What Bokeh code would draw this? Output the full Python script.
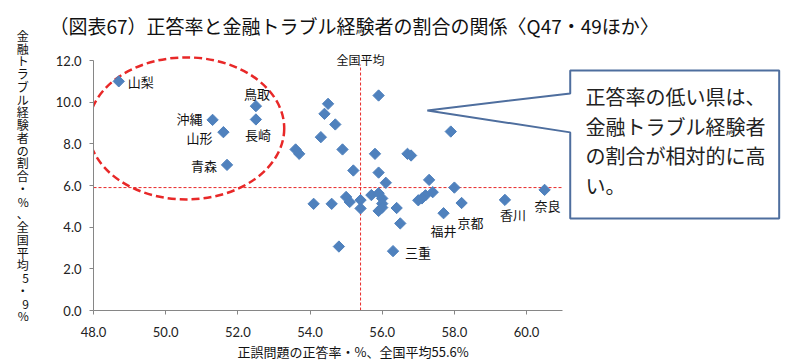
import numpy as np
from bokeh.plotting import figure
from bokeh.models import Range1d, FixedTicker, PrintfTickFormatter, Label, ColumnDataSource, Title
from bokeh.core.properties import value
from bokeh.embed import file_html
from bokeh.resources import INLINE

# ---------------- data ----------------
title_text = "（図表67）正答率と金融トラブル経験者の割合の関係〈Q47・49ほか〉"
x_label = "正誤問題の正答率・%、全国平均55.6%"
y_label = "金融トラブル経験者の割合・%、全国平均5・9%"
avg_label = "全国平均"
callout_lines = ["正答率の低い県は、", "金融トラブル経験者", "の割合が相対的に高", "い。"]

# correct-answer rate (%) per prefecture
rate = [48.7, 51.3, 51.6, 52.5, 52.5, 51.7, 53.6, 53.7, 54.5, 54.4,
        54.7, 54.3, 54.9, 55.9, 55.8, 56.7, 56.8, 55.2, 55.9, 56.1,
        57.9, 57.3, 58.0, 60.5, 54.1, 54.6, 55.0, 55.1, 55.4, 55.4,
        55.7, 55.9, 56.0, 56.0, 55.9, 56.0, 56.4, 56.5, 54.8, 56.3,
        57.0, 57.2, 57.4, 57.7, 58.2, 59.4, 57.1]
# share with financial trouble experience (%)
trouble = [11.0, 9.15, 8.56, 9.81, 9.17, 6.99, 7.73, 7.52, 9.92, 9.44,
           8.93, 8.32, 7.73, 10.32, 7.52, 7.52, 7.44, 6.72, 6.62, 6.13,
           8.59, 6.27, 5.9, 5.79, 5.12, 5.12, 5.45, 5.21, 5.3, 4.9,
           5.54, 5.63, 5.38, 5.13, 4.78, 4.94, 4.92, 4.18, 3.07, 2.85,
           5.29, 5.53, 5.68, 4.67, 5.16, 5.31, 5.38]
names = ["山梨", "沖縄", "山形", "鳥取", "長崎", "青森", "", "", "", "",
         "", "", "", "", "", "", "", "", "", "",
         "", "", "", "奈良", "", "", "", "", "", "",
         "", "", "", "", "", "", "", "", "", "三重",
         "", "", "", "福井", "京都", "香川", ""]
avg_rate_line = 55.4
avg_trouble = 5.9
x_ticks = [48, 50, 52, 54, 56, 58, 60]
y_ticks = [0, 2, 4, 6, 8, 10, 12]

# ---------------- styles ----------------
label_style = {  # name: (dx, dy, align)
    "山梨": (9, 0, "left"), "沖縄": (-10, -1, "right"), "山形": (-11, 5, "right"),
    "鳥取": (1, -13, "center"), "長崎": (2, 15, "center"), "青森": (-10, 1, "right"),
    "三重": (12, 1, "left"), "福井": (0, 17, "center"), "京都": (9, 19, "center"),
    "香川": (8, 15, "center"), "奈良": (3, 16, "center"),
}
JP = "Noto Sans CJK JP"
BLUE = "#4F81BD"
RED = "#E82828"

p = figure(width=796, height=361, output_backend="svg", toolbar_location=None,
           x_range=Range1d(48, 67.48), y_range=Range1d(0, 12.96),
           min_border_left=93, min_border_right=0, min_border_top=40, min_border_bottom=51)
p.outline_line_color = None
p.xgrid.visible = False
p.ygrid.visible = False
p.background_fill_color = "white"

for ax in (p.xaxis[0], p.yaxis[0]):
    ax.axis_line_color = "#868686"
    ax.major_tick_line_color = "#868686"
    ax.major_tick_out = 4
    ax.major_tick_in = 0
    ax.minor_tick_line_color = None
    ax.major_label_text_font = "Lato"
    ax.major_label_text_font_size = "13px"
    ax.major_label_text_color = "#222222"
    ax.formatter = PrintfTickFormatter(format="%.1f")
p.xaxis[0].ticker = FixedTicker(ticks=x_ticks)
p.yaxis[0].ticker = FixedTicker(ticks=y_ticks)
p.xaxis[0].bounds = (48, 61)
p.yaxis[0].bounds = (0, 12)
p.xaxis[0].major_label_standoff = 12
p.yaxis[0].major_label_standoff = 8

# stacked vertical y-axis label
ya = p.yaxis[0]
ya.axis_label = "\n".join(list(y_label))
ya.axis_label_text_font = JP
ya.axis_label_text_font_size = "12px"
ya.axis_label_text_font_style = "normal"
ya.axis_label_text_color = "#111111"
ya.axis_label_text_line_height = 0.75
ya.axis_label_standoff = 24
if hasattr(ya, "axis_label_orientation"):
    ya.axis_label_orientation = "horizontal"

# title
p.title.text = title_text
p.title.align = "left"
p.title.offset = -44
p.title.standoff = 4
p.title.text_font = JP
p.title.text_font_size = "19px"
p.title.text_font_style = "normal"
p.title.text_color = "#111111"

# x-axis label as a title below
p.add_layout(Title(text=x_label, align="left", offset=144, standoff=0, text_font=JP,
                   text_font_size="13px", text_font_style="normal",
                   text_color="#111111"), "below")

# average lines
p.segment(x0=[avg_rate_line], y0=[0], x1=[avg_rate_line], y1=[11.8],
          line_color=RED, line_width=1, line_dash="3 2")
p.segment(x0=[48], y0=[avg_trouble], x1=[61], y1=[avg_trouble],
          line_color=RED, line_width=1, line_dash="3 2")

# ellipse highlight
p.ellipse(x=[50.57], y=[8.74], width=[5.43], height=[6.82], fill_color=None,
          line_color=RED, line_width=2.5, line_dash="8 4")

# points
src = ColumnDataSource(dict(x=rate, y=trouble))
p.scatter("x", "y", source=src, marker="square", angle=np.pi / 4, size=8,
          fill_color=BLUE, line_color=BLUE)

# point labels
lx, ly, lt, ldx, ldy, lal = [], [], [], [], [], []
for xv, yv, nm in zip(rate, trouble, names):
    if nm:
        dx, dy, al = label_style[nm]
        lx.append(xv); ly.append(yv); lt.append(nm)
        ldx.append(dx); ldy.append(dy); lal.append(al)
lsrc = ColumnDataSource(dict(x=lx, y=ly, text=lt, dx=ldx, dy=ldy, align=lal))
p.text("x", "y", text="text", source=lsrc, x_offset="dx", y_offset="dy",
       text_align="align", text_baseline="middle", text_font=value(JP),
       text_font_size="13px", text_color="#111111")

# callout
cx = [61.21, 67.0, 67.0, 61.21, 61.21, 57.25, 61.21]
cy = [11.52, 11.52, 4.42, 4.42, 8.55, 9.6, 10.42]
p.patch(cx, cy, fill_color="white", line_color="#4E6E9E", line_width=2)
for i, line in enumerate(callout_lines):
    p.add_layout(Label(x=492, y=214 - i * 29.5, x_units="screen", y_units="screen",
                       text=line, text_font=JP, text_font_size="20px",
                       text_baseline="middle", text_align="left", text_color="#222222"))

p.add_layout(Label(x=avg_rate_line, y=251, x_units="data", y_units="screen", text=avg_label,
                   text_font=JP, text_font_size="12px", text_baseline="middle",
                   text_align="center", text_color="#111111"))

open("out.html", "w").write(file_html(p, INLINE))
